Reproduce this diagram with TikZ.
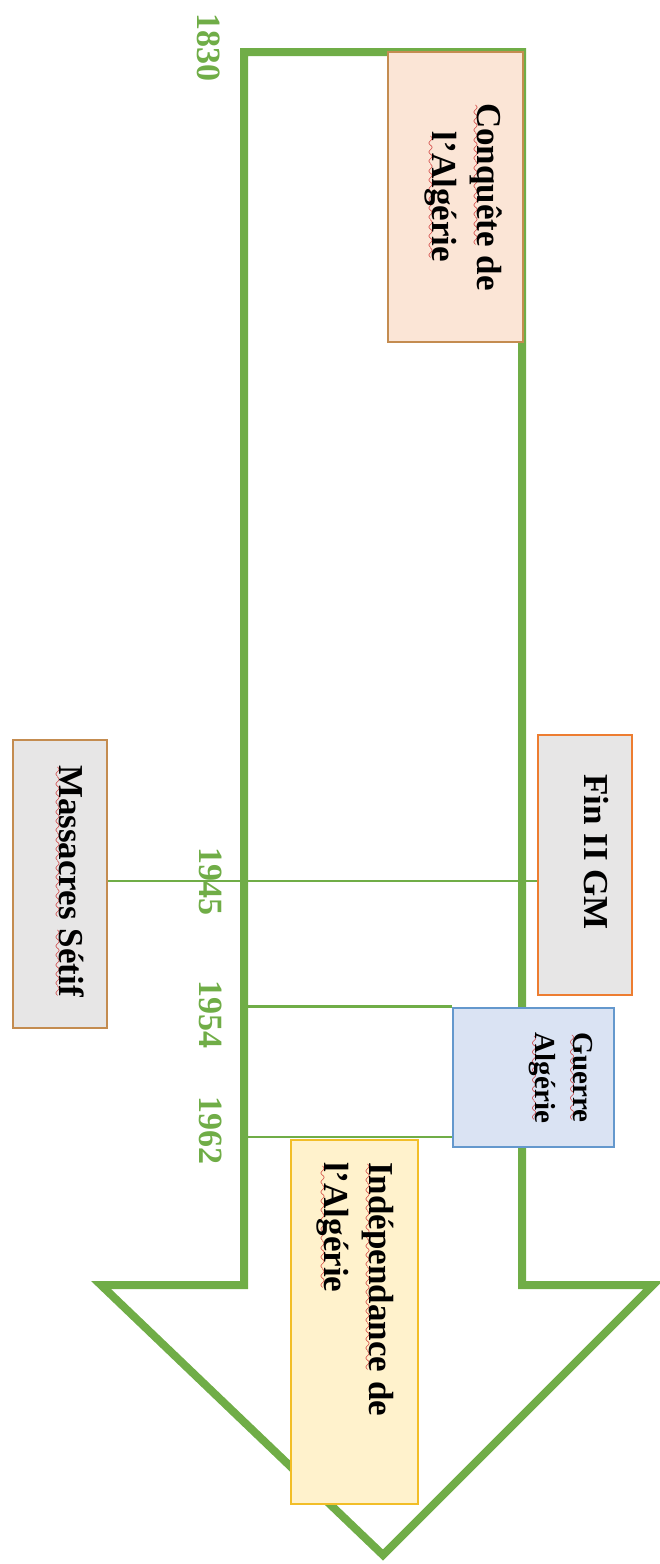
\documentclass[tikz,border=0pt]{standalone}
\usepackage{fontspec}
\setmainfont{Liberation Serif}

\definecolor{tlgreen}{RGB}{112,173,71}
\definecolor{wavered}{RGB}{200,30,30}
\definecolor{peachfill}{RGB}{251,229,214}
\definecolor{tanedge}{RGB}{196,140,80}
\definecolor{greyfill}{RGB}{231,230,230}
\definecolor{orangeedge}{RGB}{237,125,49}
\definecolor{bluefill}{RGB}{218,227,243}
\definecolor{blueedge}{RGB}{100,152,205}
\definecolor{creamfill}{RGB}{255,242,204}
\definecolor{goldedge}{RGB}{242,190,40}

% red wavy spelling mark under a word
\font\wavyfont=lasy10 at 14pt
\newcommand\spellmark[1]{\setbox0=\hbox{#1}\leavevmode
  \rlap{\lower5pt\hbox to\wd0{\color{wavered}\cleaders\hbox{\wavyfont\char58}\hfil}}\box0\relax}

\begin{document}
\begin{tikzpicture}[x=1pt,y=-1pt,
  arrowline/.style={draw=tlgreen,line width=8pt,miter limit=20},
  eventbox/.style={rectangle,inner sep=0pt,line width=2.5pt},
  eventtext/.style={rotate=-90,inner sep=0pt,font=\bfseries\fontsize{35}{45}\selectfont},
  yearlabel/.style={rotate=-90,inner sep=0pt,text=tlgreen,font=\bfseries\fontsize{34}{40}\selectfont},
  yearline/.style={draw=tlgreen,line width=2.8pt}]
\useasboundingbox (0,0) rectangle (660,1564);

% outline of the big downward arrow
\coordinate (shaftTL) at (244,52);
\coordinate (shaftTR) at (522,52);
\coordinate (shaftBR) at (522,1285);
\coordinate (headR) at (653,1285);
\coordinate (tip) at (383,1555);
\coordinate (headL) at (101,1285);
\coordinate (shaftBL) at (244,1285);
\draw[arrowline] (shaftTL) -- (shaftTR) -- (shaftBR) -- (headR) -- (tip)
  -- (headL) -- (shaftBL) -- cycle;

% event boxes
\node[eventbox,fill=peachfill,draw=tanedge,minimum width=135pt,minimum height=290pt]
  (conq) at (455.5,197) {};
\node[eventbox,fill=greyfill,draw=orangeedge,minimum width=94pt,minimum height=260pt]
  (fin) at (585,865) {};
\node[eventbox,fill=greyfill,draw=tanedge,minimum width=94pt,minimum height=288pt]
  (mass) at (60,884) {};
\node[eventbox,fill=bluefill,draw=blueedge,minimum width=161pt,minimum height=139pt]
  (guer) at (533.5,1077.5) {};
\node[eventbox,fill=creamfill,draw=goldedge,minimum width=127pt,minimum height=364pt]
  (indep) at (354.5,1322) {};

% links from the time line to the events
\coordinate (y1945) at (0,881);
\coordinate (y1962) at (0,1137);
\draw[yearline] (mass.east |- y1945) -- (fin.west |- y1945);
\draw[yearline] (shaftTL |- guer.north west) -- (guer.north west);
\draw[yearline] (shaftTL |- y1962) -- (guer.west |- y1962);

% event texts
\node[eventtext,align=center] (tconq) at (463,197)
  {\spellmark{Conquête} de\\\spellmark{l’Algérie}};
\node[eventtext] (tfin) at (596,852) {Fin II GM};
\node[eventtext] (tmass) at (69,881) {\spellmark{Massacres} \spellmark{Sétif}};
\node[eventtext,align=left,font=\bfseries\fontsize{29}{38}\selectfont] (tguer) at (561,1078)
  {\spellmark{Guerre}\\\spellmark{Algérie}};
\node[eventtext,align=left,anchor=west] (tindep) at (355,1162)
  {\spellmark{Indépendance} de\\\spellmark{l’Algérie}};

% years
\node[yearlabel] (a1830) at (209,47) {1830};
\node[yearlabel] (a1945) at (211,881) {1945};
\node[yearlabel] (a1954) at (211,1014) {1954};
\node[yearlabel] (a1962) at (211,1130) {1962};
\end{tikzpicture}
\end{document}
